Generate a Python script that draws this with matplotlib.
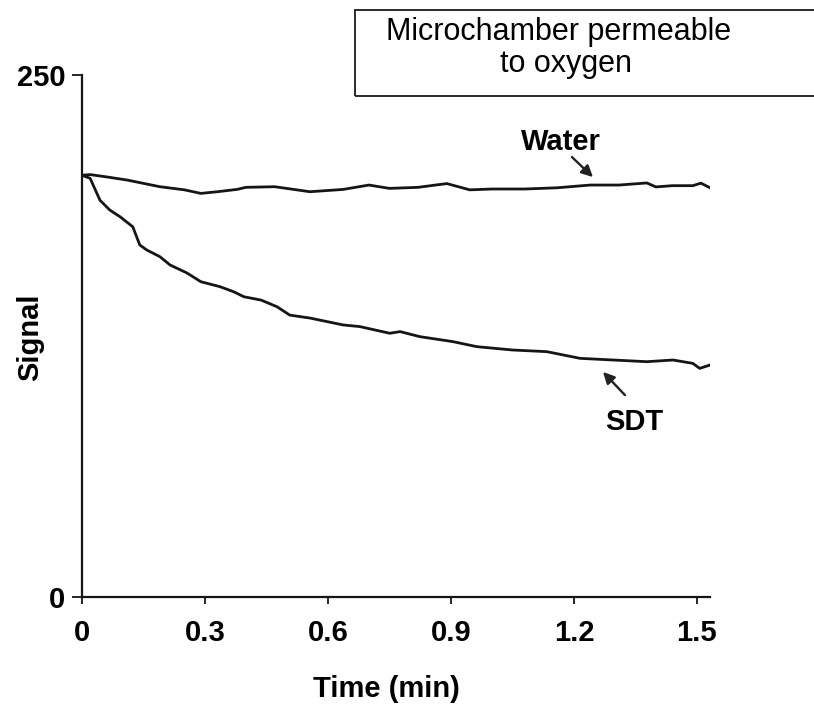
import matplotlib
matplotlib.use("Agg")
import matplotlib.pyplot as plt
from matplotlib.patches import Rectangle

plt.rcParams["font.family"] = ["Liberation Sans", "DejaVu Sans"]

# Oxygen signal traces (signal units vs time in minutes)
water_t = [0.0, 0.02, 0.06, 0.11, 0.19, 0.25, 0.29, 0.33, 0.378, 0.40, 0.47,
           0.556, 0.637, 0.70, 0.75, 0.82, 0.89, 0.946, 1.00, 1.08, 1.16,
           1.24, 1.31, 1.378, 1.40, 1.44, 1.49, 1.51, 1.532]
water_sig = [202.0, 202.3, 201.2, 199.7, 196.5, 195.0, 193.3, 194.1, 195.2,
             196.2, 196.5, 194.1, 195.2, 197.3, 195.7, 196.2, 198.0, 195.0,
             195.4, 195.4, 196.0, 197.3, 197.3, 198.3, 196.4, 197.0, 197.0,
             198.2, 196.0]

sdt_t = [0.0, 0.02, 0.044, 0.068, 0.093, 0.124, 0.141, 0.158, 0.19, 0.215,
         0.256, 0.29, 0.337, 0.37, 0.395, 0.437, 0.476, 0.507, 0.556, 0.637,
         0.678, 0.751, 0.776, 0.824, 0.905, 0.963, 1.05, 1.134, 1.215, 1.296,
         1.378, 1.442, 1.49, 1.507, 1.532]
sdt_sig = [202.0, 200.5, 190.0, 185.3, 182.1, 177.3, 168.6, 166.2, 163.0,
           159.0, 155.2, 151.0, 148.6, 146.2, 143.8, 142.2, 139.0, 135.0,
           133.6, 130.3, 129.5, 126.3, 127.1, 124.7, 122.3, 119.9, 118.3,
           117.5, 114.3, 113.5, 112.7, 113.5, 111.9, 109.5, 111.1]

x_ticks = [0, 0.3, 0.6, 0.9, 1.2, 1.5]
x_labels = ["0", "0.3", "0.6", "0.9", "1.2", "1.5"]
y_ticks = [0, 250]

fig = plt.figure(figsize=(8.14, 7.13), dpi=100)
ax = fig.add_axes([0.1007, 0.1627, 0.7715, 0.7321])

ax.plot(water_t, water_sig, color="#151515", lw=2.0)
ax.plot(sdt_t, sdt_sig, color="#151515", lw=2.0)

ax.set_xlim(0, 1.532)
ax.set_ylim(0, 250)
ax.set_xticks(x_ticks)
ax.set_xticklabels(x_labels)
ax.set_yticks(y_ticks)
for lab in ax.get_xticklabels() + ax.get_yticklabels():
    lab.set_fontsize(21)
    lab.set_fontweight("bold")
ax.tick_params(axis="x", direction="out", length=5, width=1.2, pad=11)
ax.tick_params(axis="y", direction="out", length=7, width=1.2, pad=5)

for side in ("top", "right"):
    ax.spines[side].set_visible(False)
for side in ("left", "bottom"):
    ax.spines[side].set_linewidth(1.6)
    ax.spines[side].set_color("#151515")

ax.set_xlabel("Time (min)", fontsize=21, fontweight="bold")
ax.set_ylabel("Signal", fontsize=21, fontweight="bold")
ax.xaxis.set_label_coords(0.485, -0.149)
ax.yaxis.set_label_coords(-0.0605, 0.498)

# Curve labels with pointer arrows
arrow = dict(arrowstyle="-|>", color="#222222", lw=1.7, mutation_scale=17,
             shrinkA=0, shrinkB=0)
ax.text(1.1685, 214.1, "Water", fontsize=21, fontweight="bold",
        ha="center", va="baseline")
ax.annotate("", xy=(1.2466, 201.1), xytext=(1.1953, 210.7), arrowprops=arrow)
ax.text(1.3466, 80.0, "SDT", fontsize=21, fontweight="bold",
        ha="center", va="baseline")
ax.annotate("", xy=(1.271, 107.8), xytext=(1.3246, 96.7), arrowprops=arrow)

# Title box in the upper right corner
fig.patches.append(Rectangle((355 / 814, 1 - 96 / 713), 470 / 814, 86 / 713,
                             transform=fig.transFigure, fill=False,
                             edgecolor="#1a1a1a", lw=1.3))
fig.text(559 / 814, 1 - 40 / 713, "Microchamber permeable",
         fontsize=22, ha="center", va="baseline")
fig.text(566 / 814, 1 - 72 / 713, "to oxygen",
         fontsize=22, ha="center", va="baseline")

fig.savefig("out.png", dpi=100)
